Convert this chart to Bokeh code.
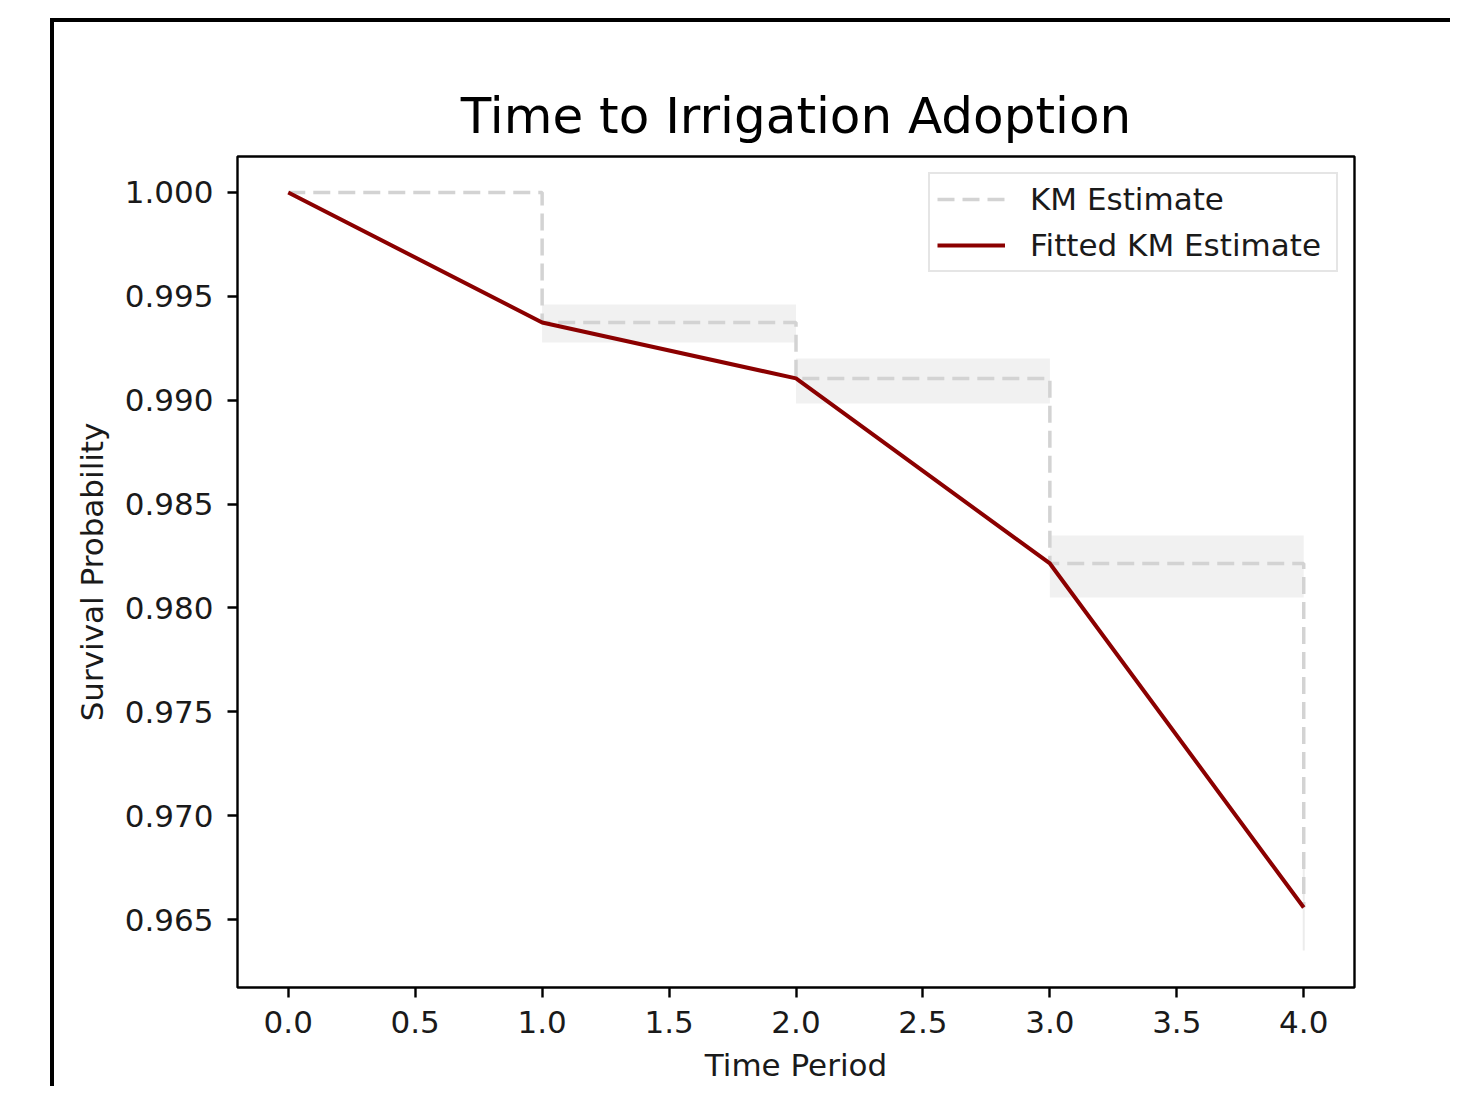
from bokeh.plotting import figure
from bokeh.models import FixedTicker, Legend, LegendItem, Range1d
from bokeh.embed import file_html
from bokeh.resources import INLINE

# ---- data ----
time = [0, 1, 2, 3, 4]
km_estimate = [1.0, 0.99374, 0.99105, 0.98214, 0.96558]
ci_lower = [1.0, 0.99278, 0.98984, 0.98050, 0.96351]
ci_upper = [1.0, 0.99461, 0.99201, 0.98349, 0.96800]
fitted_km = [1.0, 0.99374, 0.99105, 0.98214, 0.96558]

x_ticks = [0.0, 0.5, 1.0, 1.5, 2.0, 2.5, 3.0, 3.5, 4.0]
x_tick_labels = ["0.0", "0.5", "1.0", "1.5", "2.0", "2.5", "3.0", "3.5", "4.0"]
y_ticks = [0.965, 0.970, 0.975, 0.980, 0.985, 0.990, 0.995, 1.000]
y_tick_labels = ["0.965", "0.970", "0.975", "0.980", "0.985", "0.990", "0.995", "1.000"]

FONT = "DejaVu Sans"
TXT = "#1a1a1a"
FS = "31px"

p = figure(
    frame_width=1117, frame_height=831,
    x_range=Range1d(-0.2, 4.2), y_range=Range1d(0.96173, 1.00173),
    output_backend="svg", toolbar_location=None,
    min_border_left=183, min_border_top=134, min_border_right=96, min_border_bottom=99,
    title="Time to Irrigation Adoption",
)
p.margin = (18, 0, 0, 50)
p.styles = {"border-top": "4px solid black", "border-left": "4px solid black"}

p.title.align = "center"
p.title.text_font = FONT
p.title.text_font_size = "50px"
p.title.text_font_style = "normal"
p.title.text_color = "black"
p.title.standoff = 24

p.xgrid.grid_line_color = None
p.ygrid.grid_line_color = None
p.outline_line_color = "black"
p.outline_line_width = 2.4
p.background_fill_color = "white"
p.border_fill_color = "white"

# CI band
p.varea_step(x=time, y1=ci_lower, y2=ci_upper, step_mode="after", fill_color="#f1f1f1")
p.segment(x0=[time[-1]], y0=[ci_lower[-1]], x1=[time[-1]], y1=[ci_upper[-1]],
          line_color="#ececec", line_width=2)

km = p.step(time, km_estimate, mode="after", line_color="#d3d3d3", line_width=3.5,
            line_dash="17 8")
fit = p.line(time, fitted_km, line_color="#8b0000", line_width=4)

for ax, ticks, labels in ((p.xaxis[0], x_ticks, x_tick_labels), (p.yaxis[0], y_ticks, y_tick_labels)):
    ax.ticker = FixedTicker(ticks=ticks, minor_ticks=[])
    ax.major_label_overrides = {t: l for t, l in zip(ticks, labels)}
    ax.axis_line_color = None
    ax.major_tick_in = 0
    ax.major_tick_out = 10
    ax.major_tick_line_width = 2.4
    ax.major_tick_line_color = "black"
    ax.minor_tick_line_color = None
    ax.major_label_text_font = FONT
    ax.major_label_text_font_size = FS
    ax.major_label_text_color = TXT
    ax.axis_label_text_font = FONT
    ax.axis_label_text_font_size = FS
    ax.axis_label_text_font_style = "normal"
    ax.axis_label_text_color = TXT

p.xaxis.axis_label = "Time Period"
p.yaxis.axis_label = "Survival Probability"
p.xaxis.major_label_standoff = 13
p.yaxis.major_label_standoff = 14
p.xaxis.axis_label_standoff = 11
p.yaxis.axis_label_standoff = 12

legend = Legend(items=[LegendItem(label="KM Estimate", renderers=[km]),
                       LegendItem(label="Fitted KM Estimate", renderers=[fit])],
                location="top_right")
legend.margin = 16
legend.padding = 7
legend.spacing = 10
legend.glyph_width = 68
legend.glyph_height = 30
legend.label_height = 30
legend.label_width = 299
legend.label_standoff = 25
legend.label_text_font = FONT
legend.label_text_font_size = FS
legend.label_text_color = TXT
legend.border_line_color = "#cccccc"
legend.border_line_width = 2
legend.background_fill_alpha = 0.8
p.add_layout(legend)

open("out.html", "w").write(file_html(p, INLINE))
